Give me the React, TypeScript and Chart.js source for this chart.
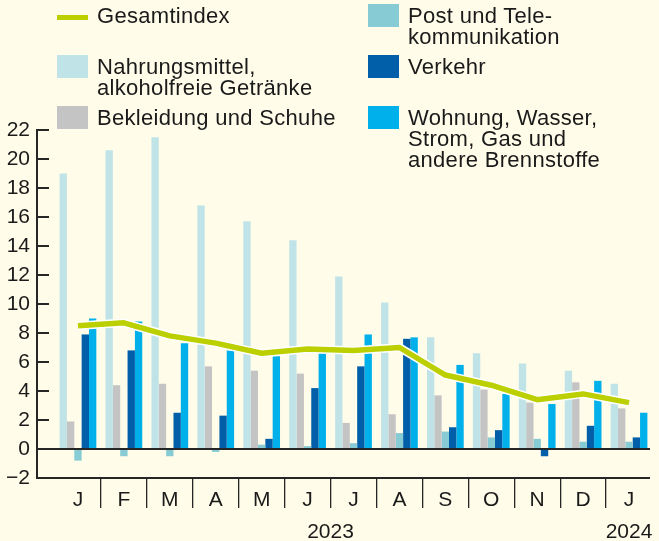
import React, { useEffect, useRef } from "react";
import { Chart, registerables } from "chart.js";

Chart.register(...registerables);

// ---- data ----
const months = ["J", "F", "M", "A", "M", "J", "J", "A", "S", "O", "N", "D", "J"];
const yearLabels = ["2023", "2024"];
const yearPositions = [5.5, 12];

const gesamtindex = [8.5, 8.7, 7.8, 7.3, 6.6, 6.9, 6.8, 7.0, 5.1, 4.4, 3.4, 3.8, 3.2];
const nahrungsmittel = [19.0, 20.6, 21.5, 16.8, 15.7, 14.4, 11.9, 10.1, 7.7, 6.6, 5.9, 5.4, 4.5];
const bekleidung = [1.9, 4.4, 4.5, 5.7, 5.4, 5.2, 1.8, 2.4, 3.7, 4.1, 3.2, 4.6, 2.8];
const post = [-0.8, -0.5, -0.5, -0.2, 0.3, 0.2, 0.4, 1.1, 1.2, 0.8, 0.7, 0.5, 0.5];
const verkehr = [7.9, 6.8, 2.5, 2.3, 0.7, 4.2, 5.7, 7.6, 1.5, 1.3, -0.5, 1.6, 0.8];
const wohnung = [9.0, 8.8, 7.3, 6.8, 6.4, 6.6, 7.9, 7.7, 5.8, 3.8, 3.1, 4.7, 2.5];

const yMin = -2;
const yMax = 22;
const yStep = 2;

const labelGesamt = ["Gesamtindex"];
const labelNahrung = ["Nahrungsmittel,", "alkoholfreie Getränke"];
const labelBekleidung = ["Bekleidung und Schuhe"];
const labelPost = ["Post und Tele-", "kommunikation"];
const labelVerkehr = ["Verkehr"];
const labelWohnung = ["Wohnung, Wasser,", "Strom, Gas und", "andere Brennstoffe"];

// ---- styles ----
const BG = "#fffce9";
const TEXT = "#1a1a1a";
const AXIS = "#262626";
const FONT = '"Liberation Sans", Arial, Helvetica, sans-serif';
const C_GESAMT = "#bccf00";
const C_NAHRUNG = "#c0e3e8";
const C_BEKLEIDUNG = "#c4c4c4";
const C_POST = "#87cbd4";
const C_VERKEHR = "#005fa8";
const C_WOHNUNG = "#00b0ea";

const axisPlugin = {
  id: "axisLines",
  afterDatasetsDraw(chart: any) {
    const { ctx, chartArea, scales } = chart;
    const y = scales.y;
    const x = scales.x;
    const left = chartArea.left - 18;
    const right = chartArea.right - 2;
    ctx.save();
    ctx.strokeStyle = AXIS;
    ctx.lineWidth = 2;
    ctx.beginPath();
    ctx.moveTo(left, y.getPixelForValue(yMax) - 1);
    ctx.lineTo(left, y.getPixelForValue(yMin));
    y.ticks.forEach((t: any) => {
      const py = y.getPixelForValue(t.value);
      ctx.moveTo(left, py);
      ctx.lineTo(left + 12, py);
    });
    [0, yMin].forEach((v) => {
      const py = y.getPixelForValue(v);
      ctx.moveTo(left - 1, py);
      ctx.lineTo(right, py);
    });
    ctx.stroke();

    // year labels, positioned through the category scale
    const step = x.getPixelForValue(1) - x.getPixelForValue(0);
    const baseY = y.getPixelForValue(yMin) + 60;
    ctx.fillStyle = TEXT;
    ctx.font = "21px " + FONT;
    ctx.textAlign = "center";
    ctx.textBaseline = "alphabetic";
    yearPositions.forEach((p, i) => {
      const base = Math.floor(p);
      const px = x.getPixelForValue(base) + (p - base) * step;
      ctx.fillText(yearLabels[i], px, baseY);
    });
    ctx.restore();
  },
};

function LegendItem({
  x,
  y,
  color,
  line,
  lines,
}: {
  x: number;
  y: number;
  color: string;
  line?: boolean;
  lines: string[];
}) {
  return (
    <div style={{ position: "absolute", left: x, top: y }}>
      {line ? (
        <div
          style={{
            position: "absolute",
            left: 0,
            top: 11,
            width: 31,
            height: 5,
            background: color,
          }}
        />
      ) : (
        <div
          style={{
            position: "absolute",
            left: 0,
            top: 0,
            width: 31,
            height: 23,
            background: color,
          }}
        />
      )}
      <div
        style={{
          position: "absolute",
          left: 40,
          top: 1,
          fontSize: 22,
          letterSpacing: "0.3px",
          lineHeight: "21px",
          whiteSpace: "nowrap",
          color: TEXT,
        }}
      >
        {lines.map((l, i) => (
          <div key={i}>{l}</div>
        ))}
      </div>
    </div>
  );
}

export default function App() {
  const canvasRef = useRef<HTMLCanvasElement | null>(null);

  useEffect(() => {
    document.body.style.margin = "0";
    document.body.style.background = BG;
    const canvas = canvasRef.current;
    if (!canvas) return;

    const barCommon = {
      type: "bar" as const,
      barPercentage: 1,
      categoryPercentage: 0.8,
      borderWidth: 0,
      order: 2,
    };

    const chart = new Chart(canvas, {
      type: "bar",
      data: {
        labels: months,
        datasets: [
          { ...barCommon, label: labelNahrung.join(" "), data: nahrungsmittel, backgroundColor: C_NAHRUNG },
          { ...barCommon, label: labelBekleidung.join(" "), data: bekleidung, backgroundColor: C_BEKLEIDUNG },
          { ...barCommon, label: labelPost.join(""), data: post, backgroundColor: C_POST },
          { ...barCommon, label: labelVerkehr.join(" "), data: verkehr, backgroundColor: C_VERKEHR },
          { ...barCommon, label: labelWohnung.join(" "), data: wohnung, backgroundColor: C_WOHNUNG },
          {
            type: "line" as const,
            label: "outline",
            data: gesamtindex,
            borderColor: "#ffffff",
            borderWidth: 8.5,
            pointRadius: 0,
            tension: 0,
            borderJoinStyle: "round",
            order: 1,
          },
          {
            type: "line" as const,
            label: labelGesamt[0],
            data: gesamtindex,
            borderColor: C_GESAMT,
            borderWidth: 5.5,
            pointRadius: 0,
            tension: 0,
            borderJoinStyle: "round",
            order: 0,
          },
        ] as any,
      },
      options: {
        responsive: false,
        animation: false,
        events: [],
        layout: { padding: { top: 130, right: 7, left: 0, bottom: 0 } },
        plugins: {
          legend: { display: false },
          tooltip: { enabled: false },
        },
        scales: {
          x: {
            type: "category",
            position: "bottom",
            offset: true,
            afterFit: (s: any) => {
              s.height = 63;
            },
            grid: {
              display: true,
              offset: true,
              drawOnChartArea: false,
              drawTicks: true,
              tickLength: 30,
              lineWidth: 1.3,
              color: (c: any) =>
                c.index === undefined || c.index === 0 ? "rgba(0,0,0,0)" : AXIS,
            },
            border: { display: false },
            ticks: {
              color: TEXT,
              font: { family: FONT, size: 21 },
              padding: -20,
              maxRotation: 0,
              autoSkip: false,
            },
          },
          y: {
            type: "linear",
            min: yMin,
            max: yMax,
            afterFit: (s: any) => {
              s.width = 55;
            },
            grid: { display: false, drawTicks: false },
            border: { display: false },
            ticks: {
              stepSize: yStep,
              color: TEXT,
              font: { family: FONT, size: 21 },
              padding: 25,
              callback: (v: any) => (Number(v) < 0 ? "\u2212" + Math.abs(Number(v)) : String(v)),
            },
          },
        },
      },
      plugins: [axisPlugin],
    });

    return () => {
      chart.destroy();
    };
  }, []);

  return (
    <div
      style={{
        position: "relative",
        width: 659,
        height: 541,
        background: BG,
        fontFamily: FONT,
        overflow: "hidden",
      }}
    >
      <canvas
        ref={canvasRef}
        width={659}
        height={541}
        style={{ position: "absolute", left: 0, top: 0, width: 659, height: 541 }}
      />
      <LegendItem x={57} y={4} color={C_GESAMT} line lines={labelGesamt} />
      <LegendItem x={57} y={55} color={C_NAHRUNG} lines={labelNahrung} />
      <LegendItem x={57} y={106} color={C_BEKLEIDUNG} lines={labelBekleidung} />
      <LegendItem x={368} y={4} color={C_POST} lines={labelPost} />
      <LegendItem x={368} y={55} color={C_VERKEHR} lines={labelVerkehr} />
      <LegendItem x={368} y={106} color={C_WOHNUNG} lines={labelWohnung} />
    </div>
  );
}
